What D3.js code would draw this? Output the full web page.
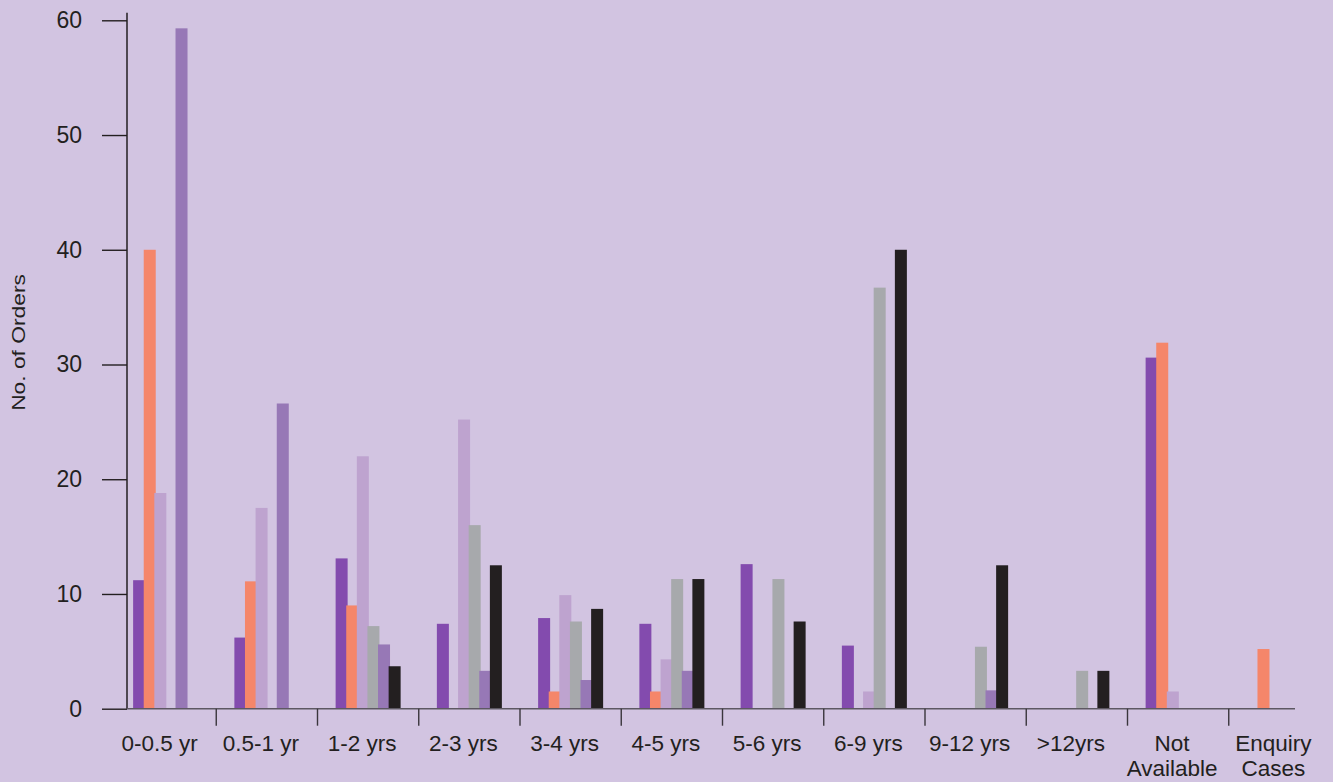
<!DOCTYPE html>
<html>
<head>
<meta charset="utf-8">
<script src="https://cdn.jsdelivr.net/npm/d3@7"></script>
<style>
  body { margin: 0; background: #d2c4e1; }
  svg { display: block; font-family: "Liberation Sans", Arial, Helvetica, sans-serif; }
</style>
</head>
<body>
<div id="chart"></div>
<script>
// kategorije (starost) in oznake osi
const categories = ["0-0.5 yr", "0.5-1 yr", "1-2 yrs", "2-3 yrs", "3-4 yrs", "4-5 yrs",
  "5-6 yrs", "6-9 yrs", "9-12 yrs", ">12yrs", "Not Available", "Enquiry Cases"];
const categoryLabels = [["0-0.5 yr"], ["0.5-1 yr"], ["1-2 yrs"], ["2-3 yrs"], ["3-4 yrs"], ["4-5 yrs"],
  ["5-6 yrs"], ["6-9 yrs"], ["9-12 yrs"], [">12yrs"], ["Not", "Available"], ["Enquiry", "Cases"]];
const yTicks = [0, 10, 20, 30, 40, 50, 60];

// serije (odčitano s slike)
const seriesNames = ["s1", "s2", "s3", "s4", "s5", "s6"];
const series1 = [11.2, 6.2, 13.1, 7.4, 7.9, 7.4, 12.6, 5.5, 0, 0, 30.6, 0];
const series2 = [40, 11.1, 9, 0, 1.5, 1.5, 0, 0, 0, 0, 31.9, 5.2];
const series3 = [18.8, 17.5, 22, 25.2, 9.9, 4.3, 0, 1.5, 0, 0, 1.5, 0];
const series4 = [0, 0, 7.2, 16, 7.6, 11.3, 11.3, 36.7, 5.4, 3.3, 0, 0];
const series5 = [59.3, 26.6, 5.6, 3.3, 2.5, 3.3, 0, 0, 1.6, 0, 0, 0];
const series6 = [0, 0, 3.7, 12.5, 8.7, 11.3, 7.6, 40, 12.5, 3.3, 0, 0];
const seriesValues = [series1, series2, series3, series4, series5, series6];
const colors = ["#834bae", "#f5866a", "#bea3cf", "#a7a9ac", "#9778b6", "#231f20"];

const width = 1333;
const height = 782;
const axisX = 127;
const axisEnd = 1295;
const textColor = "#231f20";

const svg = d3.select("#chart").append("svg")
  .attr("viewBox", [0, 0, width, height])
  .attr("width", width)
  .attr("height", height);

svg.append("rect")
  .attr("width", width)
  .attr("height", height)
  .attr("fill", "#d2c4e1");

const x0 = d3.scaleBand()
  .domain(categories)
  .range([115, 1330])
  .padding(0);

const x1 = d3.scaleBand()
  .domain(seriesNames)
  .range([0, 63.6]);

const barW = x1.bandwidth() + 1.4;
const groupW = x1.step() * 5 + barW;

const y = d3.scaleLinear()
  .domain([0, 60])
  .range([708.7, 20.3]);

// stolpci
seriesNames.forEach((name, si) => {
  const data = categories.map((c, i) => ({ c, v: seriesValues[si][i] })).filter(d => d.v > 0);
  svg.append("g")
    .attr("fill", colors[si])
    .selectAll("rect")
    .data(data)
    .join("rect")
    .attr("x", d => x0(d.c) + x0.bandwidth() / 2 - groupW / 2 + x1(name))
    .attr("width", barW)
    .attr("y", d => y(d.v))
    .attr("height", d => y(0) - y(d.v));
});

// os y
const gy = svg.append("g")
  .attr("transform", `translate(${axisX},0)`)
  .call(d3.axisLeft(y).tickValues(yTicks).tickSize(25).tickPadding(20).tickSizeOuter(0));
gy.select(".domain").remove();
gy.selectAll(".tick line").attr("stroke", textColor).attr("stroke-width", 1.4);
gy.selectAll(".tick text")
  .attr("fill", textColor)
  .style("font-size", "23px")
  .style("font-family", "\"Liberation Sans\", Arial, sans-serif");

svg.append("line")
  .attr("x1", axisX).attr("x2", axisX)
  .attr("y1", y(0)).attr("y2", y(60) - 7.5)
  .attr("stroke", textColor)
  .attr("stroke-width", 1.5);

// os x
svg.append("line")
  .attr("x1", axisX).attr("x2", axisEnd)
  .attr("y1", y(0)).attr("y2", y(0))
  .attr("stroke", "#5d5862")
  .attr("stroke-width", 1.6);

svg.append("g")
  .selectAll("line")
  .data(categories.slice(1))
  .join("line")
  .attr("x1", d => x0(d)).attr("x2", d => x0(d))
  .attr("y1", y(0)).attr("y2", y(0) + 17)
  .attr("stroke", "#3a363c")
  .attr("stroke-width", 1.4);

const labels = svg.append("g")
  .attr("fill", textColor)
  .attr("text-anchor", "middle")
  .style("font-size", "22.5px")
  .selectAll("text")
  .data(categories)
  .join("text")
  .attr("x", d => x0(d) + x0.bandwidth() / 2 - 6)
  .attr("y", 751);

labels.selectAll("tspan")
  .data((d, i) => categoryLabels[i])
  .join("tspan")
  .attr("x", function () { return d3.select(this.parentNode).attr("x"); })
  .attr("dy", (d, i) => i === 0 ? 0 : 25)
  .text(d => d);

// naslov osi y
svg.append("text")
  .attr("transform", "translate(25,342.5) rotate(-90) scale(1.2,1)")
  .attr("text-anchor", "middle")
  .attr("fill", textColor)
  .style("font-size", "19px")
  .text("No. of Orders");
</script>
</body>
</html>
